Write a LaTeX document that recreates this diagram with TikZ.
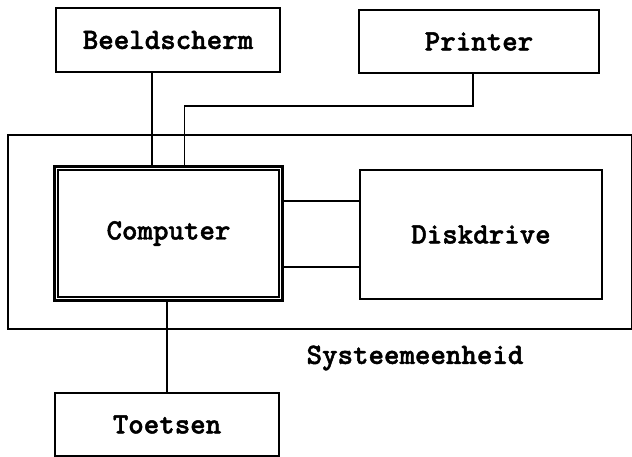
\documentclass[tikz,border=0pt]{standalone}
\usepackage{fontspec}
\newfontfamily\tw[Extension=.otf,FakeBold=1.6]{lmmonolt10-bold}
\begin{document}
\begin{tikzpicture}[x=1pt,y=-1pt,line width=1.6pt,
  box/.style={draw,rectangle,inner sep=0pt,font=\tw\fontsize{29.5}{32}\selectfont},
  lbl/.style={font=\tw\fontsize{29.5}{32}\selectfont}]
\useasboundingbox (0,0) rectangle (632,457);
\node[box,minimum width=624pt,minimum height=194pt] (sys) at (320,232) {};
\node[box,minimum width=224pt,minimum height=64pt] (beeld) at (168,40) {Beeldscherm};
\node[box,minimum width=240pt,minimum height=63pt] (printer) at (479,41.5) {Printer};
\node[box,line width=3pt,minimum width=228pt,minimum height=134pt] (comp) at (168.5,233.5) {Computer};
\draw[line width=1.3pt] ([shift={(5,5)}]comp.north west) rectangle ([shift={(-5,-5)}]comp.south east);
\node[box,minimum width=242pt,minimum height=129pt] (disk) at (481,234.5) {Diskdrive};
\node[box,minimum width=224pt,minimum height=63pt] (toet) at (167,424.5) {Toetsen};
\node[lbl] (syslbl) at (415,358) {Systeemeenheid};
% connectors
\coordinate (bs) at ([xshift=-16pt]beeld.south);
\draw (bs) -- (bs |- comp.north);
\coordinate (ps) at ([xshift=-6pt]printer.south);
\coordinate (py) at (0,106);
\coordinate (pin) at ([xshift=16pt]comp.north);
\draw (ps) -- (ps |- py) -| (pin);
\coordinate (c1) at ([yshift=32.5pt]comp.east);
\coordinate (c2) at ([yshift=-33.5pt]comp.east);
\draw (c1) -- (c1 -| disk.west);
\draw (c2) -- (c2 -| disk.west);
\coordinate (cb) at ([xshift=-1.5pt]comp.south);
\draw (cb) -- (cb |- toet.north);
\end{tikzpicture}
\end{document}
